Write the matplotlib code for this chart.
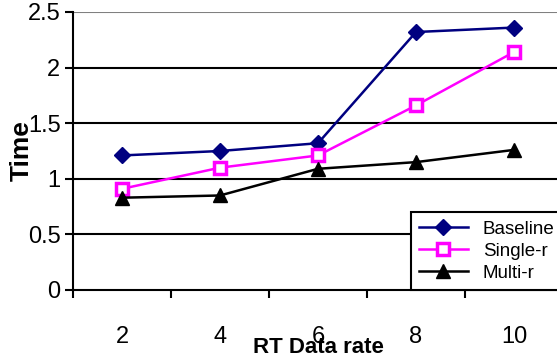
import matplotlib.pyplot as plt

plt.rcParams["font.family"] = ["Liberation Sans", "DejaVu Sans"]

categories = ["2", "4", "6", "8", "10"]
baseline = [1.21, 1.25, 1.32, 2.32, 2.36]
single_r = [0.91, 1.10, 1.21, 1.66, 2.14]
multi_r = [0.83, 0.85, 1.09, 1.15, 1.26]

W, H = 557, 358
fig = plt.figure(figsize=(W / 100, H / 100), dpi=100)
ax = fig.add_axes([73 / W, (H - 290) / H, (563 - 73) / W, (290 - 12) / H])

x = list(range(len(categories)))
ax.plot(x, baseline, color="#000080", marker="D", markersize=8, lw=1.8, label="Baseline")
ax.plot(x, single_r, color="#ff00ff", marker="s", markersize=8, lw=1.8,
        markerfacecolor="white", markeredgewidth=2.5, label="Single-r")
ax.plot(x, multi_r, color="black", marker="^", markersize=10, lw=1.8, label="Multi-r")

ax.set_xlim(-0.5, 4.5)
ax.set_ylim(0, 2.5)
ax.set_yticks([0, 0.5, 1, 1.5, 2, 2.5])
ax.set_yticklabels(["0", "0.5", "1", "1.5", "2", "2.5"])
for yv in [0.5, 1, 1.5, 2]:
    ax.axhline(yv, color="black", lw=1.5, zorder=0)
ax.axhline(2.5, color="#808080", lw=1.5, zorder=0)

ax.set_xticks(x)
ax.set_xticklabels(categories)
ax.set_xticks([i - 0.5 for i in range(len(categories) + 1)], minor=True)
ax.tick_params(axis="x", which="major", length=0, pad=26, labelsize=17)
ax.tick_params(axis="x", which="minor", length=6, width=1.5, direction="out")
ax.tick_params(axis="y", length=6, width=1.5, labelsize=17, pad=3)

for s in ["top", "right"]:
    ax.spines[s].set_visible(False)
ax.spines["left"].set_linewidth(1.5)
ax.spines["bottom"].set_linewidth(1.5)

ax.set_xlabel("RT Data rate", fontsize=16, fontweight="bold")
ax.xaxis.set_label_coords(0.5, (290 - 337) / 278)
ax.set_ylabel("Time", fontsize=19, fontweight="bold")
ax.yaxis.set_label_coords((34 - 73) / 490, 0.5)

leg = ax.legend(loc="lower right", bbox_to_anchor=(1.0, 0.0), fancybox=False,
                edgecolor="black", framealpha=1, fontsize=13.5, borderaxespad=0,
                handlelength=2.6, labelspacing=0.25, borderpad=0.45)
leg.get_frame().set_linewidth(1.5)

fig.savefig("out.png", dpi=100)
